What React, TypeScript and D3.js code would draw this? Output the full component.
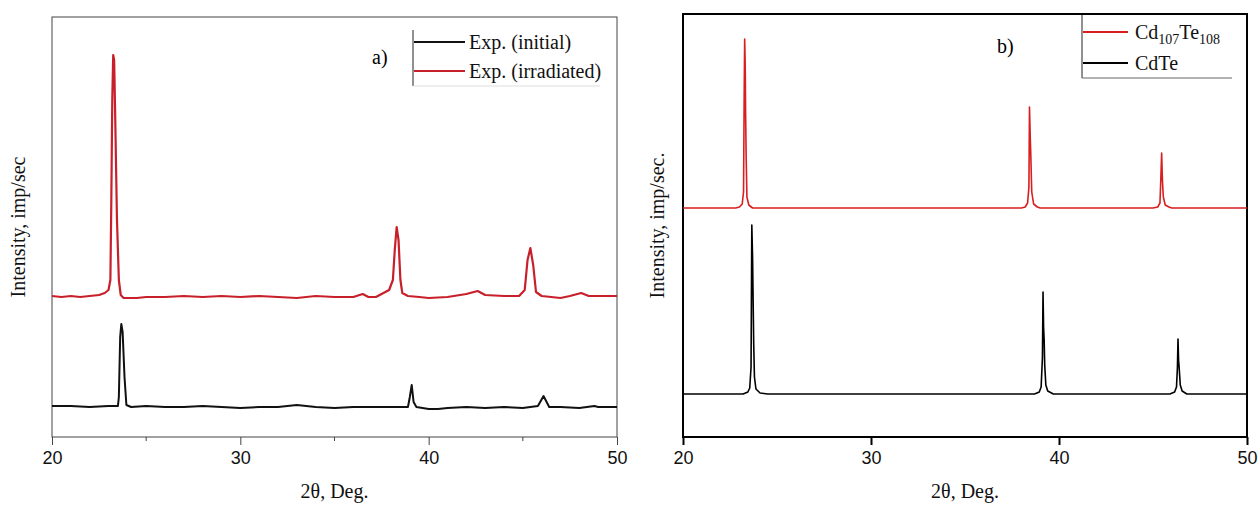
import React, { useEffect, useRef } from 'react';
import * as d3 from 'd3';

// 2theta (deg), intensity (arb. units)
const expInitial: [number, number][] = [
  [20, 31], [21, 31], [22, 30], [23, 31], [23.5, 31], [23.55, 40], [23.62, 100], [23.68, 113],
  [23.75, 105], [23.85, 60], [23.95, 32], [24.2, 30], [25, 31], [26, 30], [27, 30], [28, 31],
  [29, 30], [30, 29], [31, 30], [32, 30], [33, 32], [34, 30], [35, 29], [36, 30], [37, 30],
  [38, 30], [38.9, 30], [39.0, 40], [39.1, 52], [39.2, 35], [39.35, 30], [40, 28], [40.5, 28],
  [41, 29], [42, 30], [43, 29], [44, 30], [45, 29], [45.8, 31], [46.1, 41], [46.4, 30], [47, 30],
  [48, 29], [48.8, 31], [49, 30], [50, 30],
];

const expIrradiated: [number, number][] = [
  [20, 141], [20.5, 140], [21, 141], [21.5, 140], [22, 141], [22.5, 142], [22.8, 144], [23, 147],
  [23.1, 157], [23.15, 237], [23.2, 337], [23.25, 382], [23.3, 377], [23.35, 327], [23.45, 217],
  [23.55, 157], [23.65, 142], [23.8, 139], [24.5, 139], [25, 140], [26, 140], [27, 141], [28, 140],
  [29, 141], [30, 140], [31, 141], [32, 140], [33, 139], [34, 141], [35, 140], [36, 140],
  [36.5, 143], [36.8, 140], [37.2, 140], [37.6, 144], [37.9, 147], [38.1, 157], [38.2, 187],
  [38.3, 210], [38.4, 197], [38.5, 157], [38.6, 144], [38.9, 141], [39.5, 140], [40, 139],
  [41, 140], [42, 143], [42.6, 146], [43, 142], [44, 141], [44.8, 141], [45.1, 147], [45.25, 177],
  [45.4, 189], [45.55, 172], [45.7, 145], [46, 141], [47, 139], [47.5, 141], [48.1, 144],
  [48.5, 141], [49, 141], [50, 141],
];

const cd107te108: [number, number][] = [
  [20, 229], [22.8, 229], [23.0, 230], [23.15, 233], [23.22, 245], [23.25, 330], [23.28, 398],
  [23.31, 370], [23.33, 324], [23.36, 280], [23.4, 240], [23.5, 232], [23.7, 229], [38.0, 229],
  [38.2, 230], [38.33, 234], [38.4, 250], [38.43, 330], [38.47, 300], [38.5, 282], [38.55, 245],
  [38.65, 233], [38.85, 230], [39.0, 229], [45.0, 229], [45.25, 230], [45.37, 234], [45.42, 260],
  [45.46, 284], [45.5, 257], [45.55, 240], [45.65, 232], [45.85, 230], [46, 229], [50, 229],
];

const cdte: [number, number][] = [
  [20, 43], [23.2, 43], [23.45, 45], [23.55, 49], [23.62, 70], [23.66, 212], [23.7, 180],
  [23.73, 137], [23.76, 94], [23.8, 60], [23.88, 48], [24.1, 44], [24.5, 43], [38.7, 43],
  [38.95, 45], [39.05, 50], [39.12, 80], [39.15, 145], [39.18, 110], [39.21, 97], [39.24, 72],
  [39.3, 52], [39.4, 46], [39.7, 43], [45.9, 43], [46.15, 45], [46.25, 50], [46.3, 70],
  [46.33, 98], [46.36, 77], [46.39, 70], [46.45, 52], [46.55, 46], [46.8, 43], [50, 43],
];

const xTicks = [20, 30, 40, 50];
const xMinorTicks = [25, 35, 45];

const serif = '"Liberation Serif", "Times New Roman", serif';
const sans = '"Liberation Sans", Arial, sans-serif';
const FS = 20;

function App() {
  const svgRef = useRef<SVGSVGElement>(null);

  useEffect(() => {
    const svg = d3.select(svgRef.current);
    svg.selectAll('*').remove();

    const panels = [
      {
        left: 52, right: 617, top: 17, bottom: 437, ymax: 420,
        frame: '#444', frameWidth: 1, yLabel: 'Intensity, imp/sec', yLabelX: 18, minor: true,
        series: [
          { data: expInitial, color: '#111', width: 2 },
          { data: expIrradiated, color: '#c8202a', width: 2.2 },
        ],
      },
      {
        left: 683, right: 1247, top: 14, bottom: 437, ymax: 423,
        frame: '#000', frameWidth: 2, yLabel: 'Intensity, imp/sec.', yLabelX: 657, minor: false,
        series: [
          { data: cd107te108, color: '#d81e1e', width: 1.6 },
          { data: cdte, color: '#000', width: 1.6 },
        ],
      },
    ];

    panels.forEach(p => {
      const x = d3.scaleLinear().domain([20, 50]).range([p.left, p.right]);
      const y = d3.scaleLinear().domain([0, p.ymax]).range([p.bottom, p.top]);
      const g = svg.append('g');

      // frame
      g.append('rect')
        .attr('x', p.left).attr('y', p.top)
        .attr('width', p.right - p.left).attr('height', p.bottom - p.top)
        .attr('fill', 'none').attr('stroke', p.frame).attr('stroke-width', p.frameWidth);

      const line = d3.line<[number, number]>()
        .x(d => x(d[0]))
        .y(d => y(d[1]));

      p.series.forEach(s => {
        g.append('path')
          .datum(s.data)
          .attr('fill', 'none')
          .attr('stroke', s.color)
          .attr('stroke-width', s.width)
          .attr('stroke-linejoin', 'round')
          .attr('d', line);
      });

      // x axis
      const axis = g.append('g')
        .attr('transform', `translate(0,${p.bottom})`)
        .call(d3.axisBottom(x).tickValues(xTicks).tickSize(8).tickPadding(6).tickFormat(d3.format('d')));
      axis.select('.domain').remove();
      axis.selectAll('line').attr('stroke', p.frame).attr('stroke-width', p.frameWidth);
      axis.selectAll('text').attr('font-family', sans).attr('font-size', 18).attr('fill', '#111');

      if (p.minor) {
        g.selectAll('.minor')
          .data(xMinorTicks)
          .enter().append('line')
          .attr('x1', d => x(d)).attr('x2', d => x(d))
          .attr('y1', p.bottom).attr('y2', p.bottom + 4)
          .attr('stroke', p.frame).attr('stroke-width', 1);
      }

      g.append('text')
        .attr('x', (p.left + p.right) / 2)
        .attr('y', 498)
        .attr('text-anchor', 'middle')
        .attr('font-family', serif).attr('font-size', FS).attr('fill', '#111')
        .text('2θ, Deg.');

      g.append('text')
        .attr('transform', `translate(${p.yLabelX + 7},${(p.top + p.bottom) / 2}) rotate(-90)`)
        .attr('text-anchor', 'middle')
        .attr('font-family', serif).attr('font-size', FS).attr('fill', '#111')
        .text(p.yLabel);
    });

    // legend a)
    const la = svg.append('g');
    la.append('text').attr('x', 372).attr('y', 64)
      .attr('font-family', serif).attr('font-size', FS).text('a)');
    la.append('line').attr('x1', 413).attr('x2', 413).attr('y1', 30).attr('y2', 86)
      .attr('stroke', '#222').attr('stroke-width', 1);
    la.append('line').attr('x1', 413).attr('x2', 600).attr('y1', 86).attr('y2', 86)
      .attr('stroke', '#ddd').attr('stroke-width', 1);
    [
      { label: 'Exp. (initial)', color: '#111', y: 42 },
      { label: 'Exp. (irradiated)', color: '#c8202a', y: 71 },
    ].forEach(it => {
      la.append('line').attr('x1', 414).attr('x2', 465).attr('y1', it.y).attr('y2', it.y)
        .attr('stroke', it.color).attr('stroke-width', 2);
      la.append('text').attr('x', 469).attr('y', it.y + 7)
        .attr('font-family', serif).attr('font-size', FS).attr('fill', '#111').text(it.label);
    });

    // legend b)
    const lb = svg.append('g');
    lb.append('text').attr('x', 997).attr('y', 53)
      .attr('font-family', serif).attr('font-size', FS).text('b)');
    lb.append('line').attr('x1', 1082).attr('x2', 1082).attr('y1', 15).attr('y2', 78)
      .attr('stroke', '#222').attr('stroke-width', 1);
    lb.append('line').attr('x1', 1082).attr('x2', 1232).attr('y1', 78).attr('y2', 78)
      .attr('stroke', '#666').attr('stroke-width', 1);
    lb.append('line').attr('x1', 1083).attr('x2', 1128).attr('y1', 32).attr('y2', 32)
      .attr('stroke', '#d81e1e').attr('stroke-width', 2);
    const t = lb.append('text').attr('x', 1135).attr('y', 39)
      .attr('font-family', serif).attr('font-size', FS).attr('fill', '#111');
    t.append('tspan').text('Cd');
    t.append('tspan').attr('dy', 5).attr('font-size', 14).text('107');
    t.append('tspan').attr('dy', -5).text('Te');
    t.append('tspan').attr('dy', 5).attr('font-size', 14).text('108');
    lb.append('line').attr('x1', 1083).attr('x2', 1128).attr('y1', 63).attr('y2', 63)
      .attr('stroke', '#000').attr('stroke-width', 2);
    lb.append('text').attr('x', 1135).attr('y', 70)
      .attr('font-family', serif).attr('font-size', FS).attr('fill', '#111').text('CdTe');
  }, []);

  return (
    <div style={{ position: 'absolute', left: 0, top: 0 }}>
      <svg ref={svgRef} width={1259} height={505} style={{ display: 'block', background: '#fff' }}></svg>
    </div>
  );
}

export default App;
